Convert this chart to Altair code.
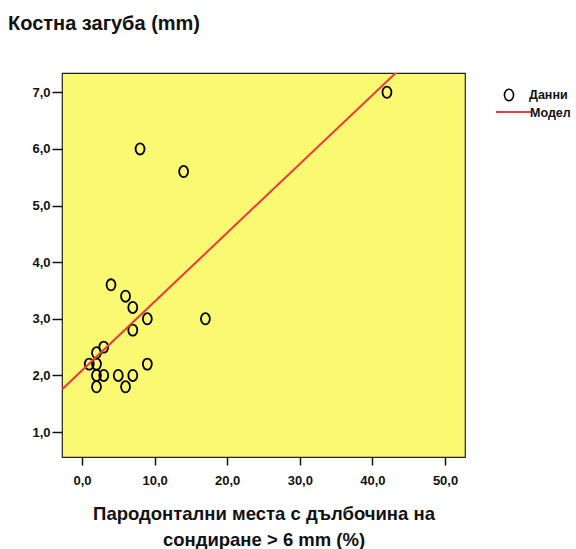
import altair as alt
import pandas as pd

# Data
x_vals = [42, 8, 14, 4, 6, 7, 9, 17, 7, 3, 2, 1, 2, 9, 2, 3, 5, 7, 2, 6]
y_vals = [7.0, 6.0, 5.6, 3.6, 3.4, 3.2, 3.0, 3.0, 2.8, 2.5, 2.4, 2.2, 2.2, 2.2,
          2.0, 2.0, 2.0, 2.0, 1.8, 1.8]
series_names = ["Данни", "Модел"]
x_ticks = [0, 10, 20, 30, 40, 50]
y_ticks = [1, 2, 3, 4, 5, 6, 7]

df = pd.DataFrame({"x": x_vals, "y": y_vals})
leg_pts = pd.DataFrame({"label": [series_names[0]]})
leg_line = pd.DataFrame({"label": [series_names[1]]})

FONT = "Liberation Sans"
RED = "#ea3a3f"
YELLOW = "#fbf872"
OVAL = "M -0.8 0 A 0.8 1 0 1 0 0.8 0 A 0.8 1 0 1 0 -0.8 0 Z"
fmt = "replace(format(datum.value, '.1f'), '.', ',')"

x_scale = alt.Scale(domain=[-2.75, 52.75], nice=False, zero=False)
y_scale = alt.Scale(domain=[0.56, 7.34], nice=False, zero=False)

x_axis = alt.Axis(
    values=x_ticks, labelExpr=fmt, grid=False, domain=False,
    tickSize=8, tickColor="#111", tickWidth=1.5,
    labelFont=FONT, labelFontWeight="bold", labelFontSize=13, labelColor="#111",
    labelPadding=9,
    title=["Пародонтални места с дълбочина на", "сондиране > 6 mm (%)"],
    titleFont=FONT, titleFontWeight="bold", titleFontSize=18.5, titleColor="#111",
    titleLineHeight=26, titlePadding=17,
)
y_axis = alt.Axis(
    values=y_ticks, labelExpr=fmt, grid=False, domain=False,
    tickSize=10, tickColor="#111", tickWidth=1.5,
    labelFont=FONT, labelFontWeight="bold", labelFontSize=13, labelColor="#111",
    labelPadding=2, title=None,
)

points = alt.Chart(df).mark_point(
    filled=False, size=125, strokeWidth=1.8, opacity=1, color="#000", shape=OVAL
).encode(
    x=alt.X("x:Q", scale=x_scale, axis=x_axis),
    y=alt.Y("y:Q", scale=y_scale, axis=y_axis),
)

line = alt.Chart(df).transform_regression(
    "x", "y", extent=[-2.75, 52.75]
).mark_line(clip=True, strokeWidth=2, color=RED).encode(
    x=alt.X("x:Q", scale=x_scale),
    y=alt.Y("y:Q", scale=y_scale),
)

# Legend (drawn to the right of the plot area)
leg_circle = alt.Chart(leg_pts).mark_point(
    filled=False, size=130, strokeWidth=1.6, color="#000", opacity=1, shape=OVAL
).encode(x=alt.value(447), y=alt.value(22))
leg_text1 = alt.Chart(leg_pts).mark_text(
    align="left", baseline="middle", font=FONT, fontWeight="bold", fontSize=12.5, color="#111"
).encode(x=alt.value(467), y=alt.value(22), text="label:N")
leg_rule = alt.Chart(leg_line).mark_rule(color=RED, strokeWidth=2).encode(
    x=alt.value(434), x2=alt.value(469), y=alt.value(39)
)
leg_text2 = alt.Chart(leg_line).mark_text(
    align="left", baseline="middle", font=FONT, fontWeight="bold", fontSize=12.5, color="#111"
).encode(x=alt.value(468), y=alt.value(40), text="label:N")

chart = alt.layer(points, line, leg_circle, leg_text1, leg_rule, leg_text2).properties(
    width=403, height=384,
    autosize=alt.AutoSizeParams(type="none"),
    padding={"left": 62, "top": 73, "right": 111, "bottom": 92},
    title=alt.Title("Костна загуба (mm)", anchor="start", frame="group", dx=-54, offset=39,
                    font=FONT, fontWeight="bold", fontSize=20, color="#111"),
).configure(
    background="white",
    view=alt.ViewConfig(fill=YELLOW, stroke="#222", strokeWidth=1.2),
)

chart.save("out.html", embed_options={"renderer": "svg", "actions": False})
